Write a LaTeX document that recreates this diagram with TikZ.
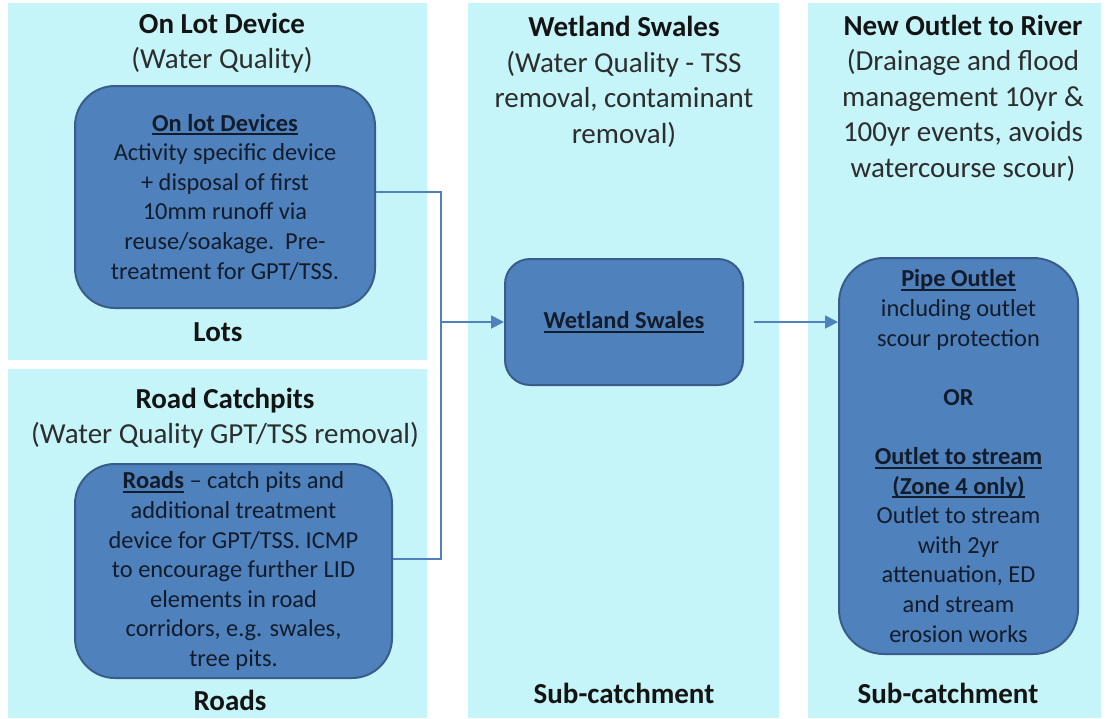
\documentclass[tikz,border=0pt]{standalone}
\usepackage{fontspec}
\setmainfont{Carlito}
\usetikzlibrary{arrows.meta}
\definecolor{panelbg}{RGB}{197,245,249}
\definecolor{boxfill}{RGB}{79,129,189}
\definecolor{boxline}{RGB}{56,93,138}
\definecolor{titletext}{RGB}{20,20,20}
\definecolor{subtext}{RGB}{45,45,45}
\definecolor{boxtext}{RGB}{18,28,42}
\newcommand\myul[1]{\setbox0\hbox{#1}\rlap{\rule[-0.17em]{\wd0}{0.075em}}\box0\relax}
\tikzset{
  panel/.style={fill=panelbg, draw=none},
  heading/.style={align=center, text=titletext, font=\fontsize{29}{35.5}\selectfont, inner sep=0pt},
  footlabel/.style={text=titletext, font=\fontsize{29}{35.5}\selectfont\bfseries, inner sep=0pt},
  blockbox/.style={fill=boxfill, draw=boxline, line width=2pt, text=boxtext, align=center,
    font=\fontsize{24.4}{29.6}\selectfont, inner sep=0pt},
  flow/.style={draw=boxfill, line width=1.8pt},
  flowarrow/.style={flow, -{Triangle[length=13pt,width=13pt]}}
}
\begin{document}
\begin{tikzpicture}[x=1pt,y=-1pt]
\useasboundingbox[fill=white] (0,0) rectangle (1108,718);
% panels
\fill[panel] (8,3) rectangle (427,360);
\fill[panel] (8,369) rectangle (427,718);
\fill[panel] (468,3) rectangle (779,718);
\fill[panel] (808,3) rectangle (1101,718);
% headings
\node[heading] (h1) at (222,43) {\textbf{On Lot Device}\\{\color{subtext}(Water Quality)}};
\node[footlabel] (f1) at (218,332) {Lots};
\node[heading] (h2) at (225,418) {\textbf{Road Catchpits}\\{\color{subtext}(Water Quality GPT/TSS removal)}};
\node[footlabel] (f2) at (230,700) {Roads};
\node[heading] (h3) at (624,82) {\textbf{Wetland Swales}\\{\color{subtext}(Water Quality - TSS}\\{\color{subtext}removal, contaminant}\\{\color{subtext}removal)}};
\node[footlabel] (f3) at (624,693) {Sub-catchment};
\node[heading] (h4) at (963,98) {\textbf{New Outlet to River}\\{\color{subtext}(Drainage and flood}\\{\color{subtext}management 10yr \&}\\{\color{subtext}100yr events, avoids}\\{\color{subtext}watercourse scour)}};
\node[footlabel] (f4) at (948,693) {Sub-catchment};
% boxes
\node[blockbox, rounded corners=40pt, minimum width=300pt, minimum height=222pt] (onlot) at (225,197)
  {\myul{\textbf{On lot Devices}}\\Activity specific device\\+ disposal of first\\10mm runoff via\\reuse/soakage.\ \ Pre-\\treatment for GPT/TSS.};
\node[blockbox, rounded corners=40pt, minimum width=317pt, minimum height=214pt] (roads) at (233.5,571)
  {\myul{\textbf{Roads}} – catch pits and\\additional treatment\\device for GPT/TSS. ICMP\\to encourage further LID\\elements in road\\corridors, e.g. swales,\\tree pits.};
\node[blockbox, rounded corners=25pt, minimum width=238pt, minimum height=126pt] (wetland) at (624,322)
  {\myul{\textbf{Wetland Swales}}};
\node[blockbox, rounded corners=45pt, minimum width=239pt, minimum height=396pt] (pipe) at (958.5,456)
  {\myul{\textbf{Pipe Outlet}}\\including outlet\\scour protection\\[29.6pt]\textbf{OR}\\[29.6pt]\myul{\textbf{Outlet to stream}}\\\myul{\textbf{(Zone 4 only)}}\\Outlet to stream\\with 2yr\\attenuation, ED\\and stream\\erosion works};
% connectors
\coordinate (junc) at (441,322);
\draw[flow] ([yshift=5pt]onlot.east) -| (junc);
\draw[flow] ([yshift=12pt]roads.east) -| (junc);
\draw[flowarrow] (junc) -- (wetland.west);
\draw[flowarrow] ([xshift=10pt]wetland.east) -- (pipe.west |- wetland.east);
\end{tikzpicture}
\end{document}
